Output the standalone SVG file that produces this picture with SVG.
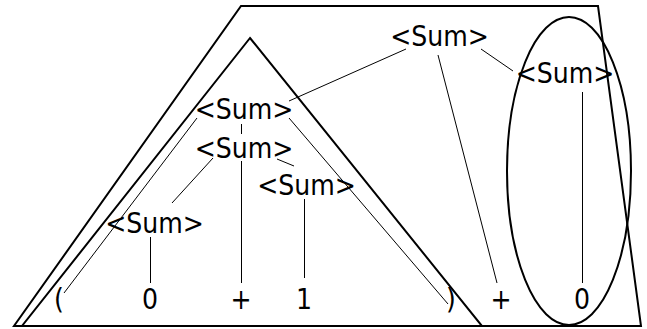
<svg xmlns="http://www.w3.org/2000/svg" width="647" height="329" viewBox="0 0 647 329">
<style>
.shape{fill:none;stroke:#000;stroke-width:2;stroke-linejoin:miter}
.edge{fill:none;stroke:#000;stroke-width:1}
text{font-family:"DejaVu Sans Condensed","DejaVu Sans",sans-serif;font-size:28px;fill:#000;text-anchor:middle}
</style>
<rect width="647" height="329" fill="#fff"/>
<g id="outer-trapezoid"><polygon class="shape" points="241,6 598,6 641,326 14,326"/></g>
<g id="inner-triangle"><polygon class="shape" points="250,38 482,326 22,326"/></g>
<g id="ellipse"><ellipse class="shape" cx="569" cy="171" rx="62" ry="154"/></g>
<g id="connectors">
<line class="edge" x1="406" y1="49" x2="289" y2="101"/>
<line class="edge" x1="438" y1="55" x2="497" y2="283"/>
<line class="edge" x1="481" y1="49" x2="513" y2="71"/>
<line class="edge" x1="582.5" y1="92" x2="582.5" y2="283"/>
<line class="edge" x1="197" y1="118" x2="64" y2="293"/>
<line class="edge" x1="241.5" y1="124" x2="241.5" y2="134"/>
<line class="edge" x1="289" y1="118" x2="448" y2="304"/>
<line class="edge" x1="213" y1="158" x2="172" y2="203"/>
<line class="edge" x1="241.5" y1="161" x2="241.5" y2="283"/>
<line class="edge" x1="277" y1="159" x2="294" y2="166"/>
<line class="edge" x1="150.5" y1="237" x2="150.5" y2="283"/>
<line class="edge" x1="304.5" y1="199" x2="304.5" y2="278"/>
</g>
<g id="sum-top"><text x="439.5" y="46">&lt;Sum&gt;</text></g>
<g id="sum-right"><text x="565" y="83">&lt;Sum&gt;</text></g>
<g id="sum-paren"><text x="244" y="119">&lt;Sum&gt;</text></g>
<g id="sum-plus"><text x="244" y="158">&lt;Sum&gt;</text></g>
<g id="sum-zero"><text x="154.5" y="233">&lt;Sum&gt;</text></g>
<g id="sum-one"><text x="306.5" y="195">&lt;Sum&gt;</text></g>
<g id="tok-lparen"><text x="59" y="309">(</text></g>
<g id="tok-0a"><text x="150" y="309">0</text></g>
<g id="tok-plus1"><text x="241" y="309">+</text></g>
<g id="tok-1"><text x="304" y="309">1</text></g>
<g id="tok-rparen"><text x="451" y="309">)</text></g>
<g id="tok-plus2"><text x="501" y="309">+</text></g>
<g id="tok-0b"><text x="582" y="309">0</text></g>
</svg>
